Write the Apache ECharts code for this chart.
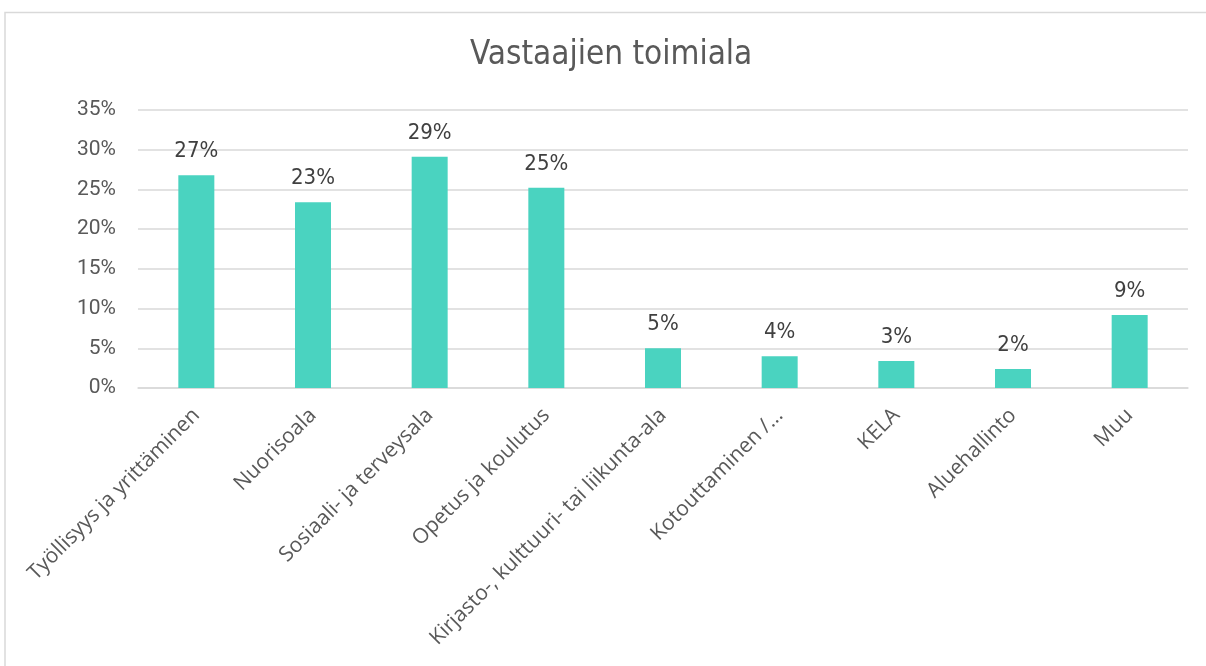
<!DOCTYPE html>
<html>
<head>
<meta charset="utf-8">
<script src="https://cdn.jsdelivr.net/npm/echarts@6/dist/echarts.min.js"></script>
<style>
  html, body { margin: 0; padding: 0; background: #fff; }
  #main { width: 1206px; height: 666px; }
</style>
</head>
<body>
<div id="main"></div>
<script>
var chartTitle = 'Vastaajien toimiala';
var categories = [
    'Työllisyys ja yrittäminen',
    'Nuorisoala',
    'Sosiaali- ja terveysala',
    'Opetus ja koulutus',
    'Kirjasto-, kulttuuri- tai liikunta-ala',
    'Kotouttaminen /...',
    'KELA',
    'Aluehallinto',
    'Muu'
];
// shares in percent
var shares = [26.8, 23.4, 29.1, 25.2, 5.0, 4.0, 3.4, 2.4, 9.2];
var yTicks = [0, 5, 10, 15, 20, 25, 30, 35];

var narrowFont = "'DejaVu Sans Condensed', Roboto, sans-serif";

var dom = document.getElementById('main');
var myChart = echarts.init(dom, null, { renderer: 'canvas' });

var option = {
    backgroundColor: '#fff',
    animation: false,
    graphic: [
        {
            type: 'polyline',
            shape: { points: [[5, 700], [5, 12.5], [1220, 12.5]] },
            style: { stroke: '#d9d9d9', lineWidth: 1.5, fill: null },
            silent: true
        }
    ],
    title: {
        text: chartTitle,
        left: 465,
        top: 34,
        textStyle: {
            fontFamily: narrowFont,
            fontWeight: 'normal',
            fontSize: 33,
            color: '#595959'
        }
    },
    grid: {
        left: 138,
        right: 18,
        top: 110,
        height: 278,
        containLabel: false
    },
    xAxis: {
        type: 'category',
        data: categories,
        axisLine: { show: true, lineStyle: { color: '#d9d9d9', width: 1.5 } },
        axisTick: { show: false },
        axisLabel: {
            interval: 0,
            rotate: 45,
            margin: 24,
            fontFamily: 'Open Sans',
            fontSize: 21,
            color: '#595959'
        }
    },
    yAxis: {
        type: 'value',
        min: yTicks[0],
        max: yTicks[yTicks.length - 1],
        interval: 5,
        axisLine: { show: false },
        axisTick: { show: false },
        splitLine: { lineStyle: { color: '#d9d9d9', width: 1.5 } },
        axisLabel: {
            margin: 22,
            fontFamily: 'Roboto',
            fontSize: 21,
            color: '#595959',
            formatter: function (v) { return v + '%'; }
        }
    },
    series: [
        {
            name: chartTitle,
            type: 'bar',
            data: shares,
            barWidth: 36,
            itemStyle: { color: '#4ad3c0' },
            label: {
                show: true,
                position: 'top',
                distance: 13,
                fontFamily: narrowFont,
                fontSize: 22,
                color: '#404040',
                formatter: function (p) { return Math.round(p.value) + '%'; }
            }
        }
    ]
};
myChart.setOption(option);
</script>
</body>
</html>
